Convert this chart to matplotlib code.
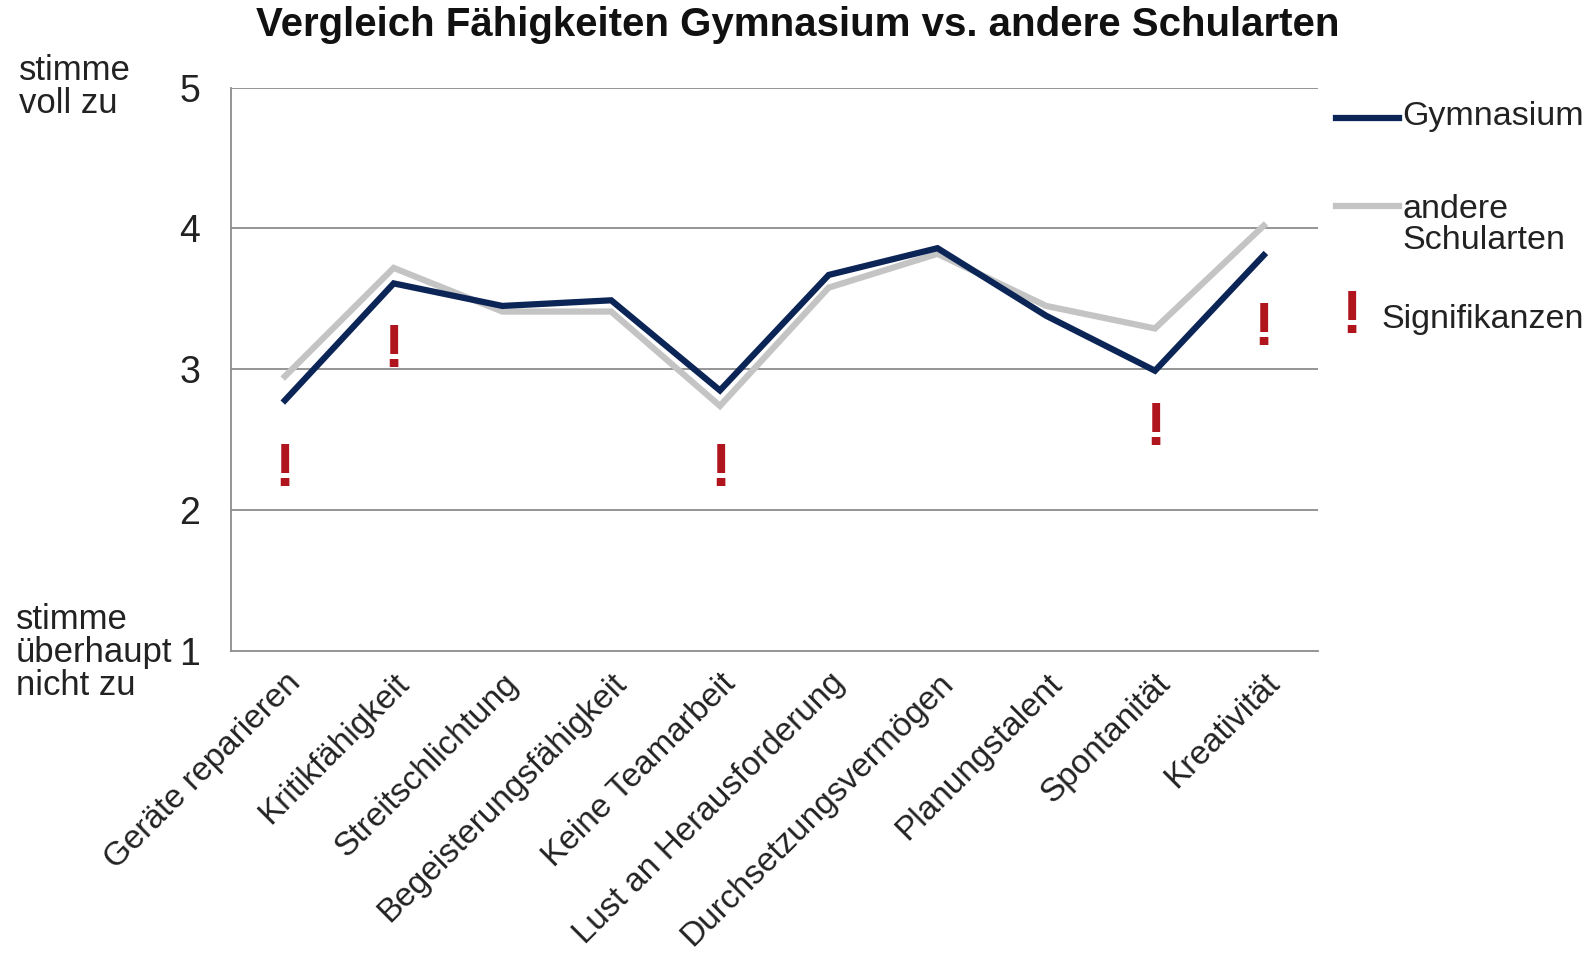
import numpy as np
import matplotlib.pyplot as plt
from matplotlib.lines import Line2D

# --- Data ---
categories = ['Geräte reparieren', 'Kritikfähigkeit', 'Streitschlichtung',
              'Begeisterungsfähigkeit', 'Keine Teamarbeit', 'Lust an Herausforderung',
              'Durchsetzungsvermögen', 'Planungstalent', 'Spontanität', 'Kreativität']
gymnasium = [2.78, 3.61, 3.45, 3.49, 2.85, 3.67, 3.86, 3.38, 2.99, 3.81]
andere = [2.95, 3.72, 3.41, 3.41, 2.74, 3.58, 3.82, 3.45, 3.29, 4.02]
# categories with significant differences and where the "!" sits
sig_idx = [0, 1, 4, 8, 9]
sig_y = [2.33, 3.17, 2.33, 2.62, 3.33]

navy = '#0c2557'
grey = '#c4c4c4'
red = '#b0141c'
txt = '#222222'

plt.rcParams['font.family'] = ['Liberation Sans', 'DejaVu Sans']

fig = plt.figure(figsize=(15.9, 9.63), dpi=100)
ax = fig.add_axes([0.145, 0.324, 0.684, 0.585])

x = np.arange(len(categories))
ax.plot(x, andere, color=grey, linewidth=4.5, solid_joinstyle='miter', zorder=3)
ax.plot(x, gymnasium, color=navy, linewidth=4.5, solid_joinstyle='miter', zorder=4)

for i, yv in zip(sig_idx, sig_y):
    ax.text(x[i], yv, '!', color=red, fontsize=44, fontweight='bold',
            ha='center', va='center_baseline', zorder=5)

ax.set_xlim(-0.5, len(categories) - 0.5)
ax.set_ylim(1, 5)
ax.set_yticks([1, 2, 3, 4, 5])
ax.set_yticklabels(['1', '2', '3', '4', '5'], fontsize=27, color=txt)
ax.set_xticks(x)
ax.set_xticklabels(categories, rotation=45, ha='right', rotation_mode='anchor',
                   fontsize=24, color=txt)
ax.tick_params(axis='x', length=0, pad=12)
ax.tick_params(axis='y', length=0, pad=22)

for y in [2, 3, 4, 5]:
    ax.axhline(y, color='#8c8c8c', linewidth=1.3, zorder=1)
for side in ['top', 'right']:
    ax.spines[side].set_visible(False)
ax.spines['left'].set_color('#8c8c8c')
ax.spines['bottom'].set_color('#8c8c8c')
ax.spines['left'].set_linewidth(1.3)
ax.spines['bottom'].set_linewidth(1.3)

# y-axis end descriptions
fig.text(0.012, 0.910, 'stimme\nvoll zu', fontsize=25, color=txt,
         va='center', ha='left', linespacing=1.0)
fig.text(0.010, 0.322, 'stimme\nüberhaupt\nnicht zu', fontsize=25, color=txt,
         va='center', ha='left', linespacing=1.0)

fig.suptitle('Vergleich Fähigkeiten Gymnasium vs. andere Schularten',
             x=0.502, y=0.974, va='center', fontsize=29, fontweight='bold', color='#111111')

# manual legend on the right
fig.add_artist(Line2D([0.840, 0.880], [0.877, 0.877], color=navy, linewidth=4.5))
fig.text(0.882, 0.879, 'Gymnasium', fontsize=24.5, va='center', ha='left', color=txt)
fig.add_artist(Line2D([0.840, 0.880], [0.786, 0.786], color=grey, linewidth=4.5))
fig.text(0.882, 0.766, 'andere\nSchularten', fontsize=24.5, va='center', ha='left',
         color=txt, linespacing=1.0)
fig.text(0.850, 0.677, '!', fontsize=44, fontweight='bold', color=red,
         va='center_baseline', ha='center')
fig.text(0.869, 0.668, 'Signifikanzen', fontsize=24.5, va='center', ha='left', color=txt)

plt.savefig('out.png', dpi=100)
